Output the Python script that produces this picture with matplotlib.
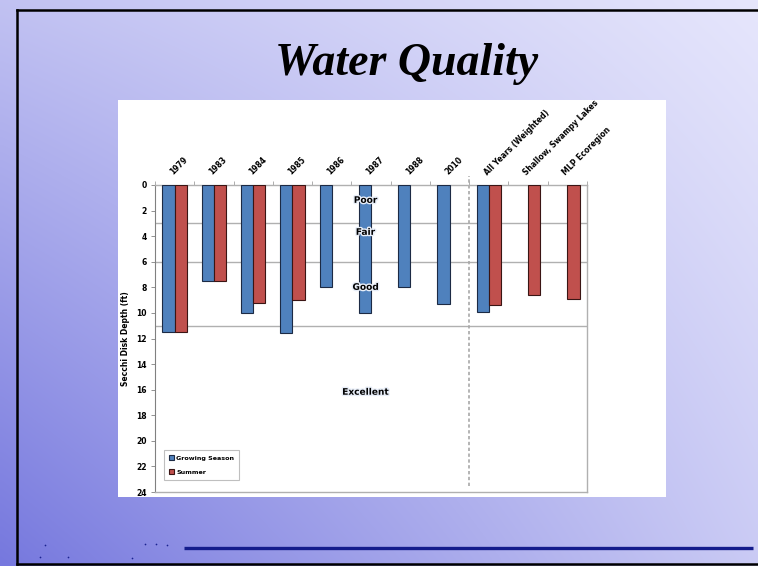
import numpy as np
import matplotlib
matplotlib.use("Agg")
import matplotlib.pyplot as plt
from matplotlib.patches import Rectangle
import matplotlib.patheffects as pe

# data
categories = ["1979", "1983", "1984", "1985", "1986", "1987", "1988", "2010",
              "All Years (Weighted)", "Shallow, Swampy Lakes", "MLP Ecoregion"]
growing_season = [11.5, 7.5, 10.0, 11.6, 8.0, 10.0, 8.0, 9.3, 9.9, np.nan, np.nan]
summer = [11.5, 7.5, 9.2, 9.0, np.nan, np.nan, np.nan, np.nan, 9.35, 8.6, 8.9]
class_limits = [3, 6, 11]
class_names = ["Poor", "Fair", "Good", "Excellent"]
class_label_depth = [1.2, 3.7, 8.0, 16.2]
y_ticks = list(range(0, 25, 2))

W, H = 758, 566
fig = plt.figure(figsize=(W / 100, H / 100), dpi=100)

# slide background gradient
bg = fig.add_axes([0, 0, 1, 1], zorder=-10)
u = np.linspace(0, 1, 200)[None, :]
v = np.linspace(0, 1, 150)[:, None]
d = 0.33 * (1 - u) + 0.25 * v + 0.42 * (1 - u) * v
light = np.array([230, 230, 252]) / 255
dark = np.array([118, 120, 222]) / 255
img = light + (dark - light) * d[..., None]
bg.imshow(img, extent=[0, W, H, 0], aspect="auto", interpolation="bilinear")
bg.set_xlim(0, W)
bg.set_ylim(H, 0)
bg.axis("off")

# white chart panel
bg.add_patch(Rectangle((118, 100), 548, 397, facecolor="white", edgecolor="none"))

# slide border and footer line
bg.plot([17, W], [10, 10], color="black", lw=1.8)
bg.plot([17, 17], [10, 564], color="black", lw=1.8)
bg.plot([17, W], [564, 564], color="black", lw=1.8)
bg.plot([184, 753], [548, 548], color="#141c8c", lw=2.4, solid_capstyle="butt")
dots_x = [45, 40, 68, 145, 156, 167, 132]
dots_y = [545, 557, 557, 544, 544, 545, 558]
bg.scatter(dots_x, dots_y, s=1.5, color="#1a2290", lw=0)

fig.text(407 / W, 1 - 64 / H, "Water Quality", ha="center", va="center",
         fontsize=33, fontweight="bold", fontstyle="italic",
         family="Liberation Serif", color="black")

# chart
ax = fig.add_axes([155 / W, 1 - 492 / H, (587 - 155) / W, (492 - 185) / H])
x = np.arange(len(categories))
bw = 0.31
ax.bar(x - bw / 2, growing_season, bw, color="#4f81bd", edgecolor="#1c2a44",
       lw=0.8, label="Growing Season", zorder=3)
ax.bar(x + bw / 2, summer, bw, color="#c0504d", edgecolor="#3a1514",
       lw=0.8, label="Summer", zorder=3)

for lim in class_limits:
    ax.axhline(lim, color="#b0b0b0", lw=1.0, zorder=1)
ax.axvline(7.5, ymin=0.02, ymax=1.03, color="#a8a8a8", lw=1.2,
           ls=(0, (2, 1.5)), clip_on=False, zorder=2)

for name, depth in zip(class_names, class_label_depth):
    ax.text(4.86, depth, name, ha="center", va="center", fontsize=6.5,
            fontweight="bold", zorder=5,
            path_effects=[pe.withStroke(linewidth=2, foreground="#e8eef8")])

ax.set_xlim(-0.5, len(categories) - 0.5)
ax.set_ylim(24, 0)
ax.set_yticks(y_ticks)
ax.set_yticklabels([str(t) for t in y_ticks], fontsize=5.5, fontweight="bold")
ax.set_ylabel("Secchi Disk Depth (ft)", fontsize=5.5, fontweight="bold", labelpad=4)
ax.tick_params(axis="y", length=3, width=0.6, color="#808080", pad=3)

ax.xaxis.tick_top()
ax.set_xticks(x)
ax.set_xticklabels(categories, rotation=45, ha="left", va="bottom",
                   rotation_mode="anchor", fontsize=5.5, fontweight="bold")
ax.set_xticks(np.arange(-0.5, len(categories)), minor=True)
ax.tick_params(axis="x", which="major", length=0, pad=6)
ax.tick_params(axis="x", which="minor", length=3, width=0.6, color="#a0a0a0", top=True)
for side in ["top", "right", "bottom"]:
    ax.spines[side].set_color("#b0b0b0")
    ax.spines[side].set_linewidth(1.0)
ax.spines["left"].set_color("#808080")
ax.spines["left"].set_linewidth(0.8)

leg = ax.legend(loc="lower left", bbox_to_anchor=(0.014, 0.029),
                prop={"weight": "bold", "size": 4.6}, handlelength=0.8,
                handleheight=0.8, fancybox=False, edgecolor="#b0b0b0",
                borderpad=0.8, labelspacing=1.3, handletextpad=0.3)
leg.get_frame().set_linewidth(0.8)

fig.savefig("out.png", dpi=100)
